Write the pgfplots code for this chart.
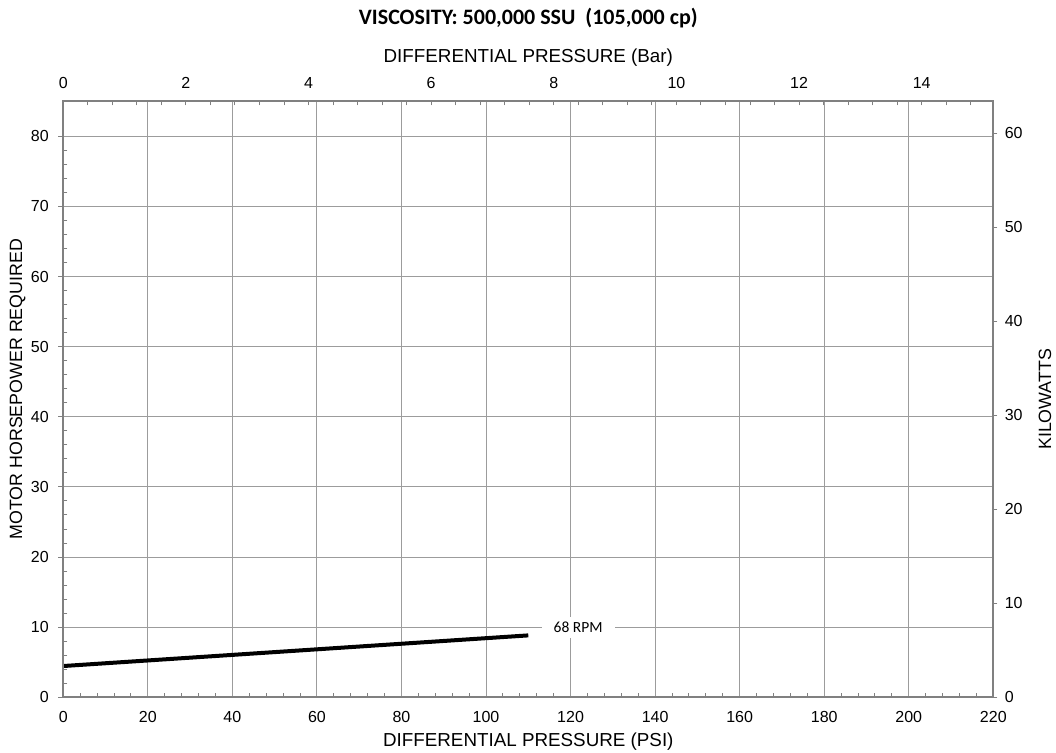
\documentclass[border=0pt]{standalone}
\usepackage{fontspec}
\setmainfont{Liberation Sans}
\newfontfamily\carlito{Carlito}
\usepackage{pgfplots}
\pgfplotsset{compat=1.18}
\definecolor{axgray}{HTML}{808080}
\definecolor{gridgray}{HTML}{9C9C9C}

\begin{document}
\begin{tikzpicture}
\pgfplotsset{
  every axis/.append style={
    scale only axis, width=930pt, height=596pt,
    xmin=0, ymin=0,
    axis line style={axgray, line width=2pt},
    tick style={axgray, line width=1pt},
    ticklabel style={font=\fontsize{16}{18}\selectfont},
    /pgf/number format/assume math mode=true,
    tick align=outside,
    major tick length=5pt, minor tick length=-4pt,
    major x tick style={draw=none},
  }
}
\path[use as bounding box] (-63.3pt,-54.7pt) rectangle (992.7pt,697.3pt);

% PSI / HP axis
\begin{axis}[
  xmax=220, ymax=85,
  xtick={0,20,...,220}, ytick={0,10,...,80},
  minor x tick num=4, minor y tick num=4,
  xtick pos=left, ytick pos=left,
  xticklabel pos=left, yticklabel pos=left,
  xticklabel style={yshift=-5pt},
  yticklabel style={xshift=-6pt},
  grid=major, major grid style={gridgray, line width=1pt},
  xlabel={DIFFERENTIAL PRESSURE (PSI)},
  ylabel={MOTOR HORSEPOWER REQUIRED},
  xlabel style={font=\fontsize{18.8}{20}\selectfont, at={(axis description cs:0.5,-0.0745)}, anchor=center},
  ylabel style={font=\fontsize{17.8}{20}\selectfont, at={(axis description cs:-0.0492,0.517)}, anchor=center},
]
\addplot[black, line width=4pt] coordinates {(0,4.46) (110,8.83)};
\node[fill=white, inner xsep=12pt, inner ysep=5pt, font=\carlito\fontsize{15.5}{17}\selectfont] at (axis cs:121.8,10) {68 RPM};
\end{axis}

% Bar / kW axis
\begin{axis}[
  xmax=15.1683, ymax=63.385,
  xtick={0,2,...,14}, ytick={0,10,...,60},
  minor xtick={0,0.4,...,15.2},
  xtick pos=right, ytick pos=right,
  xticklabel pos=right, yticklabel pos=right,
  xticklabel style={yshift=5pt},
  yticklabel style={xshift=4pt},
  major tick length=4pt,
  xlabel={DIFFERENTIAL PRESSURE (Bar)},
  ylabel={KILOWATTS},
  xlabel style={font=\fontsize{18.8}{20}\selectfont, at={(axis description cs:0.5,1.073)}, anchor=center},
  ylabel style={font=\fontsize{17.8}{20}\selectfont, at={(axis description cs:1.0556,0.5)}, anchor=center, rotate=0},
  title={\carlito\bfseries VISCOSITY: 500,000 SSU\ \ (105,000 cp)},
  title style={font=\fontsize{22}{24}\selectfont, at={(axis description cs:0.5,1.130)}, anchor=center},
]
\end{axis}
\end{tikzpicture}
\end{document}
